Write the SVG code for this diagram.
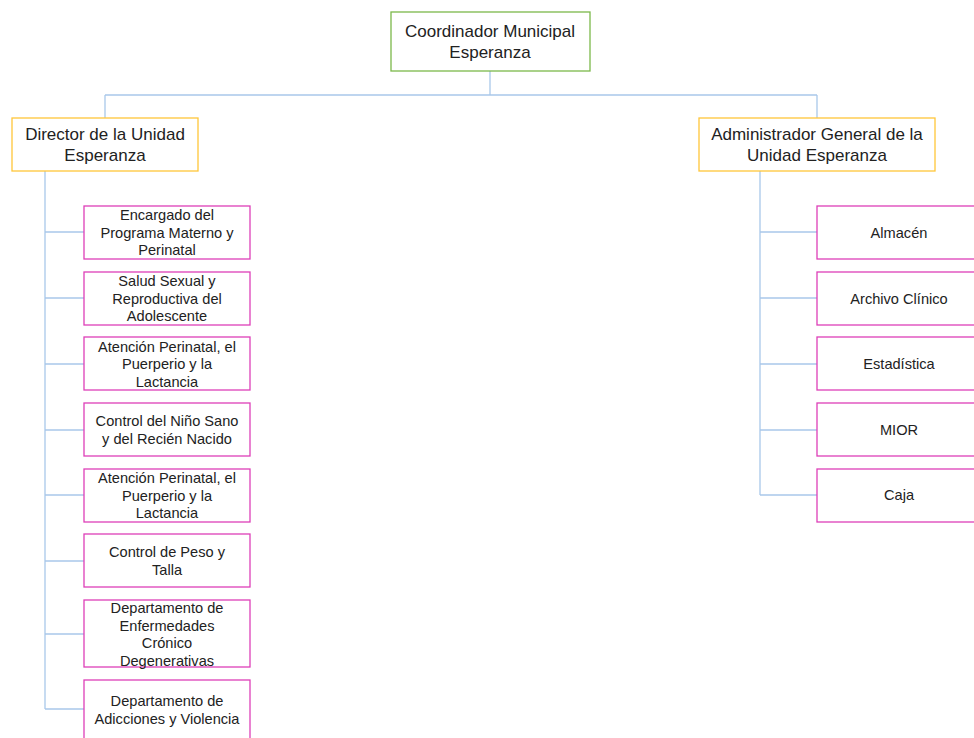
<svg xmlns="http://www.w3.org/2000/svg" width="974" height="738" viewBox="0 0 974 738">
<style>
.bg{fill:#fff}
.top{fill:#fff;stroke:#7cb84a;stroke-width:1.3}
.mid{fill:#fff;stroke:#ffc63a;stroke-width:1.3}
.leaf{fill:#fff;stroke:#de3fb8;stroke-width:1.3}
.c{fill:none;stroke:#a9c8ea;stroke-width:1.3}
text{font-family:"Liberation Sans",Arial,sans-serif;fill:#222;text-anchor:middle}
.t1{font-size:17px}
.t2{font-size:14.6px}
</style>
<rect class="bg" x="0" y="0" width="974" height="738"/>
<g id="connectors">
<path class="c" d="M490,71V95M105,95H817M105,95V118M817,95V118"/>
<path class="c" d="M45,171V709M45,232H84M45,298H84M45,364H84M45,430H84M45,495H84M45,561H84M45,634H84M45,709H84"/>
<path class="c" d="M760,171V495M760,232H817M760,298H817M760,364H817M760,430H817M760,495H817"/>
</g>
<g id="coordinador"><rect class="top" x="391" y="12" width="199" height="59"/><text class="t1" x="490" y="37">Coordinador Municipal</text><text class="t1" x="490" y="58">Esperanza</text></g>
<g id="director"><rect class="mid" x="12" y="118" width="186" height="53"/><text class="t1" x="105" y="140">Director de la Unidad</text><text class="t1" x="105" y="161">Esperanza</text></g>
<g id="administrador"><rect class="mid" x="699" y="118" width="236" height="53"/><text class="t1" x="817" y="140">Administrador General de la</text><text class="t1" x="817" y="161">Unidad Esperanza</text></g>
<g id="l1"><rect class="leaf" x="84" y="206" width="166" height="53"/><text class="t2" x="167" y="220">Encargado del</text><text class="t2" x="167" y="237.5">Programa Materno y</text><text class="t2" x="167" y="255">Perinatal</text></g>
<g id="l2"><rect class="leaf" x="84" y="272" width="166" height="53"/><text class="t2" x="167" y="286">Salud Sexual y</text><text class="t2" x="167" y="303.5">Reproductiva del</text><text class="t2" x="167" y="321">Adolescente</text></g>
<g id="l3"><rect class="leaf" x="84" y="337" width="166" height="53"/><text class="t2" x="167" y="351.5">Atención Perinatal, el</text><text class="t2" x="167" y="369">Puerperio y la</text><text class="t2" x="167" y="386.5">Lactancia</text></g>
<g id="l4"><rect class="leaf" x="84" y="403" width="166" height="53"/><text class="t2" x="167" y="426">Control del Niño Sano</text><text class="t2" x="167" y="444">y del Recién Nacido</text></g>
<g id="l5"><rect class="leaf" x="84" y="469" width="166" height="53"/><text class="t2" x="167" y="483">Atención Perinatal, el</text><text class="t2" x="167" y="500.5">Puerperio y la</text><text class="t2" x="167" y="518">Lactancia</text></g>
<g id="l6"><rect class="leaf" x="84" y="534" width="166" height="53"/><text class="t2" x="167" y="557">Control de Peso y</text><text class="t2" x="167" y="575">Talla</text></g>
<g id="l7"><rect class="leaf" x="84" y="600" width="166" height="67"/><text class="t2" x="167" y="613">Departamento de</text><text class="t2" x="167" y="630.5">Enfermedades</text><text class="t2" x="167" y="648">Crónico</text><text class="t2" x="167" y="665.5">Degenerativas</text></g>
<g id="l8"><rect class="leaf" x="84" y="680" width="166" height="64"/><text class="t2" x="167" y="706">Departamento de</text><text class="t2" x="167" y="724">Adicciones y Violencia</text></g>
<g id="r1"><rect class="leaf" x="817" y="206" width="166" height="53"/><text class="t2" x="899" y="238">Almacén</text></g>
<g id="r2"><rect class="leaf" x="817" y="272" width="166" height="53"/><text class="t2" x="899" y="304">Archivo Clínico</text></g>
<g id="r3"><rect class="leaf" x="817" y="337" width="166" height="53"/><text class="t2" x="899" y="369">Estadística</text></g>
<g id="r4"><rect class="leaf" x="817" y="403" width="166" height="53"/><text class="t2" x="899" y="435">MIOR</text></g>
<g id="r5"><rect class="leaf" x="817" y="469" width="166" height="53"/><text class="t2" x="899" y="500">Caja</text></g>
</svg>
